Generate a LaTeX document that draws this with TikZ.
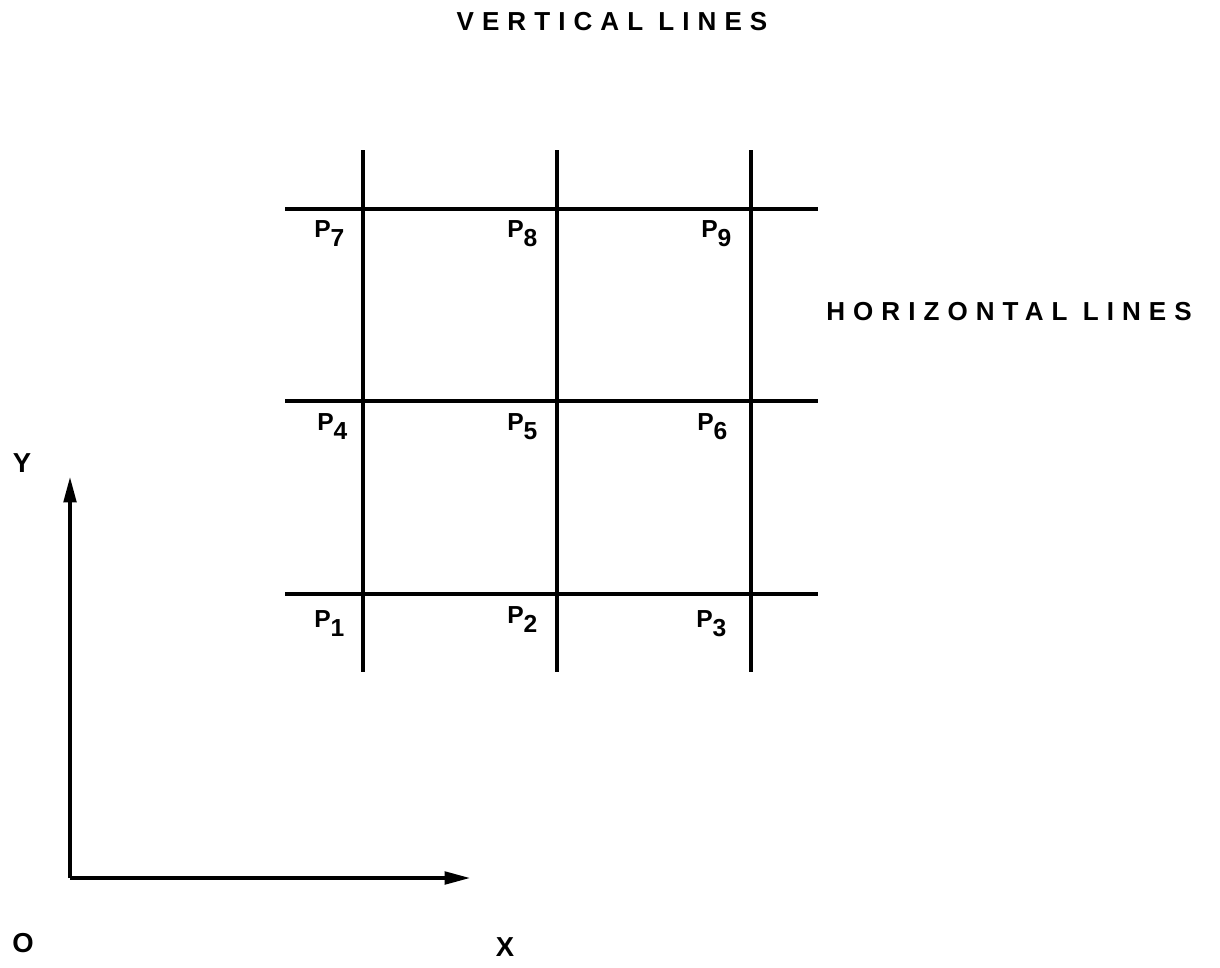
\documentclass[tikz,border=0pt]{standalone}
\usepackage{fontspec}
\setmainfont{Liberation Sans}
\newfontfamily\spaced[LetterSpace=31]{Liberation Sans}
\usetikzlibrary{arrows.meta}
\begin{document}
\begin{tikzpicture}[x=0.025cm,y=-0.025cm,
  gridline/.style={line width=2.4pt},
  axisline/.style={line width=2.2pt,-{Triangle[length=18pt,width=9pt]}},
  plabel/.style={font=\fontsize{17.5}{17.5}\selectfont\bfseries, inner sep=0pt, anchor=base west},
  axlabel/.style={font=\fontsize{19.5}{19.5}\selectfont\bfseries, inner sep=0pt},
  title/.style={font=\fontsize{18.5}{19}\selectfont\spaced\bfseries, inner sep=0pt}]
\useasboundingbox (0,0) rectangle (1220,967);
% grid ends
\foreach \n/\x in {a/363,b/557,c/751}{
  \coordinate (v\n top) at (\x,150);
  \coordinate (v\n bot) at (\x,672);
  \draw[gridline] (v\n top) -- (v\n bot);
}
\foreach \n/\y in {a/209,b/401,c/594}{
  \coordinate (h\n l) at (285,\y);
  \coordinate (h\n r) at (818,\y);
  \draw[gridline] (h\n l) -- (h\n r);
}
% point labels
\newcommand{\plab}[1]{P\raisebox{-6.5pt}{#1}}
\node[plabel] (p7) at (314,237) {\plab{7}};
\node[plabel] (p8) at (507,237) {\plab{8}};
\node[plabel] (p9) at (701,237) {\plab{9}};
\node[plabel] (p4) at (317,430) {\plab{4}};
\node[plabel] (p5) at (507,430) {\plab{5}};
\node[plabel] (p6) at (697,430) {\plab{6}};
\node[plabel] (p1) at (314,627) {\plab{1}};
\node[plabel] (p2) at (507,623) {\plab{2}};
\node[plabel] (p3) at (696,627) {\plab{3}};
% axes
\coordinate (orig) at (70,878);
\coordinate (ytip) at (70,477);
\coordinate (xtip) at (470,878);
\draw[axisline] (orig) -- (ytip);
\draw[axisline] (orig) -- (xtip);
\node[axlabel] (ylab) at (22,463) {Y};
\node[axlabel] (olab) at (23,943) {O};
\node[axlabel] (xlab) at (505,947) {X};
% titles
\node[title] (vt) at (612,22) {VERTICAL LINES};
\node[title] (ht) at (1009,312) {HORIZONTAL LINES};
\end{tikzpicture}
\end{document}
